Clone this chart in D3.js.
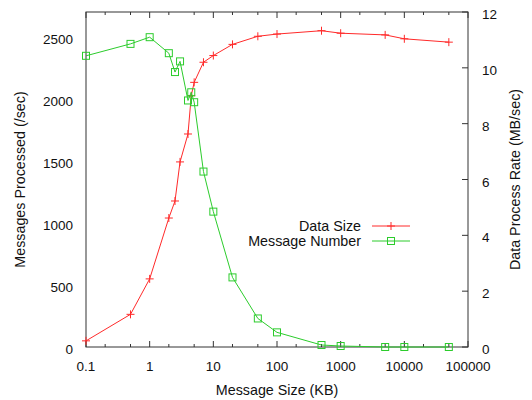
<!DOCTYPE html>
<html>
<head>
<meta charset="utf-8">
<script src="https://cdn.jsdelivr.net/npm/d3@7"></script>
<style>
  body { margin: 0; background: #fff; }
  text { font-family: "Liberation Sans", Arial, sans-serif; font-size: 13.5px; fill: #111; }
  text.title { font-size: 14.3px; }
</style>
</head>
<body>
<svg id="chart" width="532" height="400"></svg>
<script>
// message sizes (KB)
let sizes = [0.1, 0.5, 1, 2, 2.5, 3, 4, 4.5, 5, 7, 10, 20, 50, 100, 500, 1000, 5000, 10000, 50000];
// data process rate (MB/sec), right axis
let dataRate = [0.22, 1.17, 2.44, 4.62, 5.23, 6.63, 7.63, 9.0, 9.48, 10.2, 10.44, 10.84, 11.13, 11.21, 11.33, 11.24, 11.18, 11.04, 10.92];
// messages processed (/sec), left axis
let msgCount = [2347, 2443, 2497, 2368, 2216, 2302, 1987, 2053, 1973, 1414, 1091, 561, 230, 118, 16, 8, 0, 0, 0];

let xTicks = [0.1, 1, 10, 100, 1000, 10000, 100000];
let yTicks = [0, 500, 1000, 1500, 2000, 2500];
let y2Ticks = [0, 2, 4, 6, 8, 10, 12];
let legendNames = ["Data Size", "Message Number"];

let margin = {top: 12, right: 64, bottom: 53, left: 86};
let width = 532 - margin.left - margin.right;
let height = 400 - margin.top - margin.bottom;

let red = "#ff2a2a";
let green = "#2ccc2c";
let border = "#333";

let x = d3.scaleLog().domain([0.1, 100000]).range([0, width]);
let y = d3.scaleLinear().domain([0, 2700]).range([height, 0]);
let y2 = d3.scaleLinear().domain([0, 12]).range([height, 0]);

let svg = d3.select("#chart");
let g = svg.append("g").attr("transform", `translate(${margin.left},${margin.top})`);

// minor x ticks at 2 and 5 of each decade
let minor = [];
xTicks.slice(0, -1).forEach(function(t) { minor.push(t * 2, t * 5); });

// bottom + top ticks, inward
function xTickMarks(yPos, dir) {
    g.selectAll(null).data(xTicks).enter().append("line")
        .attr("x1", d => x(d)).attr("x2", d => x(d))
        .attr("y1", yPos).attr("y2", yPos + dir * 6)
        .attr("stroke", border);
    g.selectAll(null).data(minor).enter().append("line")
        .attr("x1", d => x(d)).attr("x2", d => x(d))
        .attr("y1", yPos).attr("y2", yPos + dir * 3)
        .attr("stroke", border);
}
xTickMarks(height, -1);
xTickMarks(0, 1);

// right axis ticks
g.selectAll(null).data(y2Ticks).enter().append("line")
    .attr("x1", width).attr("x2", width - 6)
    .attr("y1", d => y2(d)).attr("y2", d => y2(d))
    .attr("stroke", border);

// border
g.append("rect").attr("width", width).attr("height", height)
    .attr("fill", "none").attr("stroke", border).attr("stroke-width", 1);

// tick labels
g.selectAll(null).data(xTicks).enter().append("text")
    .attr("x", d => x(d)).attr("y", height + 24)
    .attr("text-anchor", "middle")
    .text(d => d === 100000 ? "100000" : String(d));

g.selectAll(null).data(yTicks).enter().append("text")
    .attr("x", -13).attr("y", d => y(d) + 7)
    .attr("text-anchor", "end")
    .text(d => d);

g.selectAll(null).data(y2Ticks).enter().append("text")
    .attr("x", width + 14).attr("y", d => y2(d) + 7)
    .text(d => d);

// axis titles
svg.append("text").attr("class", "title").attr("x", margin.left + width / 2).attr("y", 395)
    .attr("text-anchor", "middle").text("Message Size (KB)");
svg.append("text").attr("class", "title").attr("transform", `translate(25,${margin.top + height / 2}) rotate(-90)`)
    .attr("text-anchor", "middle").text("Messages Processed (/sec)");
svg.append("text").attr("class", "title").attr("transform", `translate(520,${margin.top + height / 2}) rotate(-90)`)
    .attr("text-anchor", "middle").text("Data Process Rate (MB/sec)");

let redData = sizes.map((s, i) => ({x: s, y: dataRate[i]}));
let greenData = sizes.map((s, i) => ({x: s, y: msgCount[i]}));

// red line (right axis)
g.append("path").datum(redData)
    .attr("fill", "none").attr("stroke", red).attr("stroke-width", 1)
    .attr("d", d3.line().x(d => x(d.x)).y(d => y2(d.y)));

function plus(sel, color) {
    sel.append("path")
        .attr("d", "M-4,0H4M0,-4V4")
        .attr("stroke", color).attr("stroke-width", 1).attr("fill", "none");
}
function square(sel, color) {
    sel.append("rect")
        .attr("x", -3.5).attr("y", -3.5).attr("width", 7).attr("height", 7)
        .attr("stroke", color).attr("stroke-width", 1).attr("fill", "none");
}

g.selectAll(".redpt").data(redData).enter().append("g")
    .attr("class", "redpt")
    .attr("transform", d => `translate(${x(d.x)},${y2(d.y)})`)
    .call(plus, red);

// green line (left axis)
g.append("path").datum(greenData)
    .attr("fill", "none").attr("stroke", green).attr("stroke-width", 1)
    .attr("d", d3.line().x(d => x(d.x)).y(d => y(d.y)));

g.selectAll(".greenpt").data(greenData).enter().append("g")
    .attr("class", "greenpt")
    .attr("transform", d => `translate(${x(d.x)},${y(d.y)})`)
    .call(square, green);

// legend
let legend = svg.append("g");
let legendColors = [red, green];
legendNames.forEach(function(name, i) {
    let ly = 226 + i * 15;
    legend.append("text").attr("class", "title").attr("x", 361).attr("y", ly + 5)
        .attr("text-anchor", "end").text(name);
    legend.append("line").attr("x1", 372).attr("x2", 410)
        .attr("y1", ly).attr("y2", ly)
        .attr("stroke", legendColors[i]);
    let m = legend.append("g").attr("transform", `translate(391,${ly})`);
    if (i === 0) plus(m, red); else square(m, green);
});
</script>
</body>
</html>
